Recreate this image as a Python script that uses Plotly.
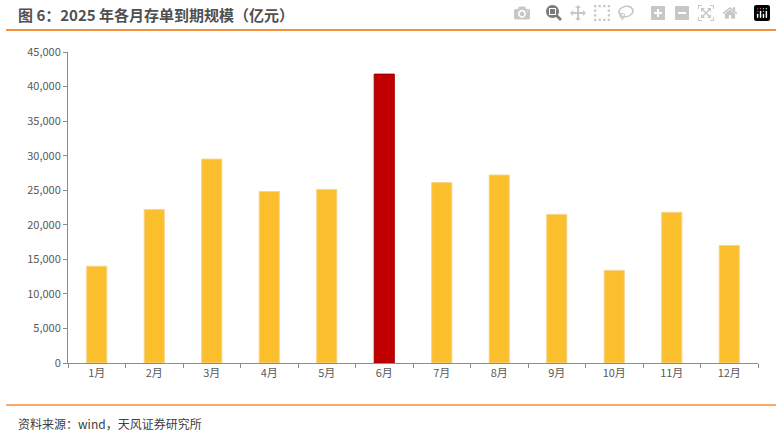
import plotly.graph_objects as go

months = ["1月","2月","3月","4月","5月","6月","7月","8月","9月","10月","11月","12月"]
values = [14000, 22200, 29500, 24800, 25100, 41800, 26100, 27200, 21500, 13400, 21800, 17000]
highlight = "6月"
colors = ["#C00000" if m == highlight else "#FBBF2E" for m in months]
line_colors = ["#A00000" if m == highlight else "#F5D38A" for m in months]

fig = go.Figure(go.Bar(x=months, y=values, marker=dict(color=colors, line=dict(color=line_colors, width=1)), width=0.35))
W, H = 776, 435
PW, PH = 690, 311
fig.update_layout(
    width=W, height=H, margin=dict(l=68, r=18, t=52, b=72),
    plot_bgcolor="white", paper_bgcolor="white", showlegend=False,
    font=dict(family="Noto Sans CJK SC, Arial", size=11, color="#595959"),
    xaxis=dict(showline=True, linecolor="#8c8c8c", ticks="outside", tickson="boundaries",
               tickcolor="#8c8c8c", ticklen=4, tickfont=dict(size=11, color="#595959")),
    yaxis=dict(range=[0, 45000], dtick=5000, tickformat=",", showline=True, linecolor="#8c8c8c",
               ticks="outside", tickcolor="#8c8c8c", ticklen=4, showgrid=False, zeroline=False,
               tickfont=dict(size=11, color="#595959")),
    shapes=[
        dict(type="line", xref="paper", yref="paper", x0=-62/PW, x1=1+18/PW, y0=(363-30)/PH, y1=(363-30)/PH, line=dict(color="#F4913C", width=2)),
        dict(type="line", xref="paper", yref="paper", x0=-62/PW, x1=1+18/PW, y0=-(405-363)/PH, y1=-(405-363)/PH, line=dict(color="#F4913C", width=1.5)),
    ],
    annotations=[
        dict(text="<b>图 6：2025 年各月存单到期规模（亿元）</b>", xref="paper", yref="paper",
             x=-52/PW, y=(363-14)/PH, xanchor="left", yanchor="middle", showarrow=False,
             font=dict(size=15, color="#505050")),
        dict(text="资料来源：wind，天风证券研究所", xref="paper", yref="paper",
             x=-52/PW, y=-(423-363)/PH, xanchor="left", yanchor="middle", showarrow=False,
             font=dict(size=12, color="#404040")),
    ],
)
fig.write_html("out.html", post_script="document.body.style.margin='0';document.body.style.overflow='hidden';")
